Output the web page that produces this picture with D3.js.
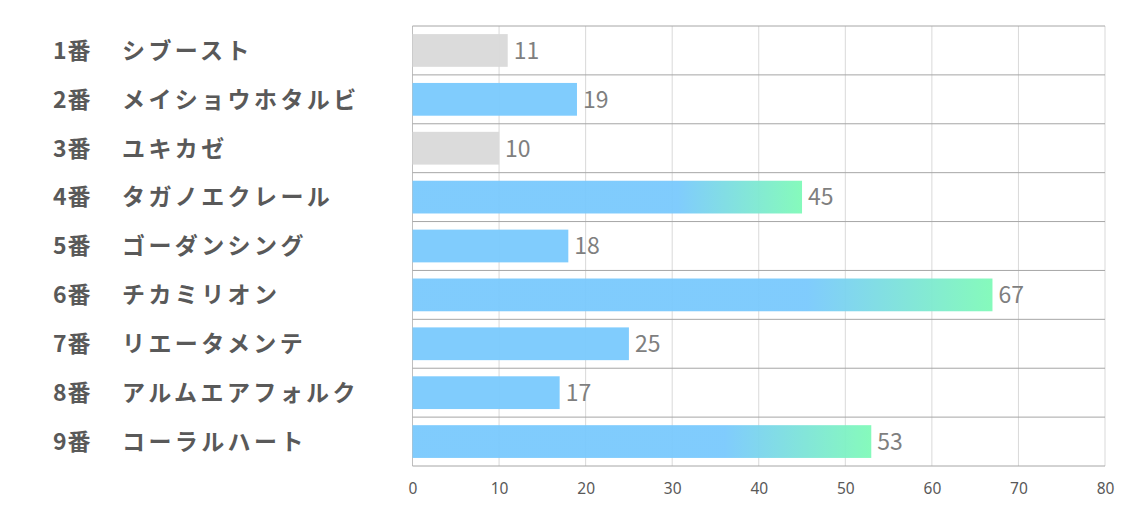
<!DOCTYPE html>
<html>
<head>
<meta charset="utf-8">
<script src="https://cdn.jsdelivr.net/npm/d3@7"></script>
<style>
  body { margin: 0; background: #fff; }
  text { font-family: "Noto Sans CJK JP", "Noto Sans", sans-serif; }
</style>
</head>
<body>
<div id="chart"></div>
<script>
// horse numbers, names and values
const NUMBERS = ["1番", "2番", "3番", "4番", "5番", "6番", "7番", "8番", "9番"];
const NAMES = ["シブースト", "メイショウホタルビ", "ユキカゼ", "タガノエクレール", "ゴーダンシング",
  "チカミリオン", "リエータメンテ", "アルムエアフォルク", "コーラルハート"];
const VALUES = [11, 19, 10, 45, 18, 67, 25, 17, 53];
const X_TICKS = [0, 10, 20, 30, 40, 50, 60, 70, 80];

let svgWidth = 1134;
let svgHeight = 510;
let margin = { left: 412.5, right: 29, top: 26, bottom: 44 };

let svg = d3.select('#chart')
  .append('svg')
  .attr('width', svgWidth)
  .attr('height', svgHeight);

let x = d3.scaleLinear()
  .domain([0, 80])
  .range([margin.left, svgWidth - margin.right]);

let y = d3.scaleBand()
  .domain(d3.range(VALUES.length))
  .range([margin.top, svgHeight - margin.bottom])
  .paddingInner(0.33)
  .paddingOuter(0.165);

// gradient for the top bars
let defs = svg.append('defs');
let grad = defs.append('linearGradient')
  .attr('id', 'topGrad')
  .attr('x1', '0%').attr('x2', '100%')
  .attr('y1', '0%').attr('y2', '0%');
grad.append('stop').attr('offset', '68%').attr('stop-color', '#79c9fd');
grad.append('stop').attr('offset', '100%').attr('stop-color', '#7ffab8');

// vertical grid
svg.append('g')
  .selectAll('line')
  .data(X_TICKS)
  .enter()
  .append('line')
  .attr('x1', d => x(d)).attr('x2', d => x(d))
  .attr('y1', margin.top).attr('y2', svgHeight - margin.bottom)
  .attr('stroke', d => d === 0 ? '#bfbfbf' : '#d9d9d9')
  .attr('stroke-width', 1);

// horizontal row lines
let step = (svgHeight - margin.bottom - margin.top) / VALUES.length;
svg.append('g')
  .selectAll('line')
  .data(d3.range(VALUES.length + 1))
  .enter()
  .append('line')
  .attr('x1', x(0)).attr('x2', x(80))
  .attr('y1', d => margin.top + d * step)
  .attr('y2', d => margin.top + d * step)
  .attr('stroke', '#a6a6a6')
  .attr('stroke-width', 1);

function barFill(v) {
  if (v < 15) return '#d9d9d9';
  if (v >= 40) return 'url(#topGrad)';
  return '#79c9fd';
}

// bars
svg.append('g')
  .selectAll('rect')
  .data(VALUES)
  .enter()
  .append('rect')
  .attr('x', x(0))
  .attr('y', (d, i) => y(i))
  .attr('width', d => x(d) - x(0))
  .attr('height', y.bandwidth())
  .attr('fill', d => barFill(d))
  .attr('fill-opacity', 0.95);

// value labels
svg.append('g')
  .selectAll('text')
  .data(VALUES)
  .enter()
  .append('text')
  .attr('x', d => x(d) + 6)
  .attr('y', (d, i) => y(i) + y.bandwidth() / 2)
  .attr('dy', '0.36em')
  .attr('font-size', 23)
  .attr('fill', '#7f7f7f')
  .text(d => d);

// row labels
let labels = svg.append('g');
labels.selectAll('text.num')
  .data(NUMBERS)
  .enter()
  .append('text')
  .attr('class', 'num')
  .attr('x', 53)
  .attr('y', (d, i) => y(i) + y.bandwidth() / 2)
  .attr('dy', '0.36em')
  .attr('font-size', 23)
  .attr('font-weight', 700)
  .attr('letter-spacing', 1)
  .attr('fill', '#595959')
  .text(d => d);
labels.selectAll('text.name')
  .data(NAMES)
  .enter()
  .append('text')
  .attr('class', 'name')
  .attr('x', 122)
  .attr('y', (d, i) => y(i) + y.bandwidth() / 2)
  .attr('dy', '0.36em')
  .attr('font-size', 23)
  .attr('font-weight', 700)
  .attr('letter-spacing', 3.4)
  .attr('fill', '#595959')
  .text(d => d);

// x axis tick labels
let xAxis = d3.axisBottom(x)
  .tickValues(X_TICKS)
  .tickSize(0)
  .tickPadding(17);
let axisG = svg.append('g')
  .attr('transform', `translate(0, ${svgHeight - margin.bottom})`)
  .call(xAxis);
axisG.select('.domain').remove();
axisG.selectAll('text')
  .attr('font-size', 15.5)
  .attr('fill', '#595959')
  .style('font-family', '"Noto Sans", sans-serif');
</script>
</body>
</html>
